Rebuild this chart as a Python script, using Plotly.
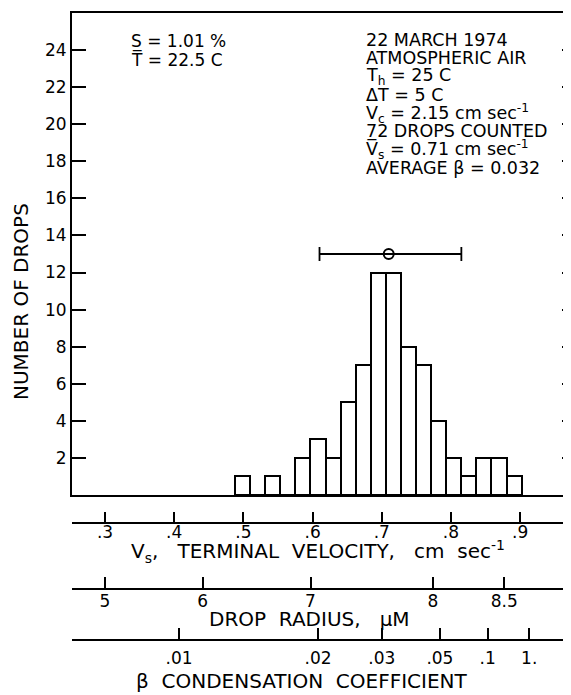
import plotly.graph_objects as go

# ---------------- data ----------------
# histogram bins on the terminal-velocity scale (cm/s)
bin_centers = [0.4988, 0.5206, 0.5424, 0.5642, 0.5860, 0.6078, 0.6296, 0.6514,
               0.6732, 0.6950, 0.7168, 0.7386, 0.7604, 0.7822, 0.8040, 0.8258,
               0.8476, 0.8694, 0.8912]
drop_counts = [1, 0, 1, 0, 2, 3, 2, 5, 7, 12, 12, 8, 7, 4, 2, 1, 2, 2, 1]
bin_width = 0.0218

# mean terminal velocity with spread
mean_vs = [0.71]
mean_level = [13]
spread_minus = [0.100]
spread_plus = [0.105]

# count axis
count_ticks = [2, 4, 6, 8, 10, 12, 14, 16, 18, 20, 22, 24]

# terminal velocity axis
vel_ticks = [0.3, 0.4, 0.5, 0.6, 0.7, 0.8, 0.9]
vel_labels = [".3", ".4", ".5", ".6", ".7", ".8", ".9"]

# drop radius axis (positions on the velocity scale)
radius_ticks = [0.300, 0.441, 0.597, 0.774, 0.877]
radius_labels = ["5", "6", "7", "8", "8.5"]

# condensation coefficient axis (positions on the velocity scale)
beta_ticks = [0.407, 0.608, 0.700, 0.784, 0.853, 0.913]
beta_labels = [".01", ".02", ".03", ".05", ".1", "1."]

info_left = ["S = 1.01 %", "T\u0305 = 22.5 C"]
info_right = ["22 MARCH 1974",
              "ATMOSPHERIC AIR",
              "T<sub>h</sub> = 25 C",
              "\u0394T = 5 C",
              "V<sub>c</sub> = 2.15 cm sec<sup>-1</sup>",
              "72 DROPS COUNTED",
              "V\u0305<sub>s</sub> = 0.71 cm sec<sup>-1</sup>",
              "AVERAGE \u03b2 = 0.032"]

# ---------------- layout geometry ----------------
OFF = 8                      # page body margin
W, H = 571 - OFF, 695 - OFF  # figure size
ML, MR, MT, MB = 72 - OFF, 1, 13 - OFF, 0
PW = W - ML - MR
PH = H - MT - MB
XR = [0.2523, 0.972]


def px(x):
    """page pixel x -> paper fraction"""
    return (x - OFF - ML) / PW


def py(y):
    """page pixel y -> paper fraction"""
    return (H - MB - (y - OFF)) / PH


FONT = "DejaVu Sans, Liberation Sans, Arial, sans-serif"
INK = "black"
NB = "\u00a0"

fig = go.Figure()

fig.add_trace(go.Bar(
    x=bin_centers, y=drop_counts, width=bin_width,
    marker=dict(color="white", line=dict(color=INK, width=2)),
    showlegend=False, hoverinfo="x+y",
))

fig.add_trace(go.Scatter(
    x=mean_vs, y=mean_level, mode="markers",
    marker=dict(symbol="circle-open", size=10, color=INK, line=dict(width=2)),
    error_x=dict(type="data", symmetric=False, array=spread_plus,
                 arrayminus=spread_minus, color=INK, thickness=1.8, width=7),
    showlegend=False,
))

# invisible trace to host the right-side count ticks
fig.add_trace(go.Scatter(x=[XR[0]], y=[0], yaxis="y2", mode="markers",
                         marker=dict(opacity=0), showlegend=False,
                         hoverinfo="skip"))

y_dom0 = py(495)

fig.update_layout(
    width=W, height=H,
    margin=dict(l=ML, r=MR, t=MT, b=MB, autoexpand=False),
    paper_bgcolor="white", plot_bgcolor="white",
    font=dict(family=FONT, color=INK, size=17),
    bargap=0,
    xaxis=dict(range=XR, domain=[0, 1], showgrid=False, zeroline=False,
               showline=True, linecolor=INK, linewidth=2, mirror=True,
               showticklabels=False, ticks=""),
    yaxis=dict(range=[0, 26], domain=[y_dom0, 1], showgrid=False,
               zeroline=False, showline=True, linecolor=INK, linewidth=2,
               tickvals=count_ticks, ticks="inside", ticklen=14,
               tickwidth=1.5, tickcolor=INK, tickfont=dict(size=17)),
    yaxis2=dict(range=[0, 26], overlaying="y", side="right", anchor="x",
                showgrid=False, zeroline=False, showline=False,
                tickvals=count_ticks, ticks="inside", ticklen=8,
                tickwidth=1.5, tickcolor=INK, showticklabels=False),
    xaxis2=dict(range=XR, overlaying="x", anchor="free", position=py(523),
                side="bottom", showgrid=False, zeroline=False, showline=True,
                linecolor=INK, linewidth=2, tickvals=vel_ticks,
                ticktext=vel_labels, ticks="inside", ticklen=10, tickwidth=1.5,
                tickcolor=INK, tickfont=dict(size=17), ticklabelstandoff=-6),
    xaxis3=dict(range=XR, overlaying="x", anchor="free", position=py(589),
                side="bottom", showgrid=False, zeroline=False, showline=True,
                linecolor=INK, linewidth=2, tickvals=radius_ticks,
                ticktext=radius_labels, ticks="inside", ticklen=11,
                tickwidth=1.5, tickcolor=INK, tickfont=dict(size=17),
                ticklabelstandoff=-3),
    xaxis4=dict(range=XR, overlaying="x", anchor="free", position=py(640),
                side="bottom", showgrid=False, zeroline=False, showline=True,
                linecolor=INK, linewidth=2, tickvals=beta_ticks,
                ticktext=beta_labels, ticks="inside", ticklen=11,
                tickwidth=1.5, tickcolor=INK, tickfont=dict(size=17),
                ticklabelstandoff=3),
)

# traces to activate the extra x axes
for ax in ["x2", "x3", "x4"]:
    fig.add_trace(go.Scatter(x=[XR[0]], y=[0], xaxis=ax, mode="markers",
                             marker=dict(opacity=0), showlegend=False,
                             hoverinfo="skip"))

ann = []
# y title
ann.append(dict(text="NUMBER OF DROPS", x=px(21), y=py(302), xref="paper",
                yref="paper", textangle=-90, showarrow=False,
                font=dict(size=20), xanchor="center", yanchor="middle"))
# x axis titles
ann.append(dict(text="V<sub>s</sub>," + NB * 3 + "TERMINAL" + NB * 2 +
                "VELOCITY," + NB * 3 + "cm" + NB * 2 + "sec<sup>-1</sup>",
                x=px(318), y=py(551), xref="paper", yref="paper",
                showarrow=False, font=dict(size=20), xanchor="center",
                yanchor="middle"))
ann.append(dict(text="DROP" + NB * 2 + "RADIUS," + NB * 3 + "\u03bcM",
                x=px(309), y=py(619), xref="paper", yref="paper",
                showarrow=False, font=dict(size=20), xanchor="center",
                yanchor="middle"))
ann.append(dict(text="\u03b2" + NB * 2 + "CONDENSATION" + NB * 2 +
                "COEFFICIENT", x=px(302), y=py(681), xref="paper",
                yref="paper", showarrow=False, font=dict(size=20),
                xanchor="center", yanchor="middle"))
# info text
for i, t in enumerate(info_left):
    ann.append(dict(text=t, x=px(129), y=py(41 + 18.3 * i), xref="paper",
                    yref="paper", showarrow=False, font=dict(size=17),
                    xanchor="left", yanchor="middle"))
for i, t in enumerate(info_right):
    ann.append(dict(text=t, x=px(364), y=py(40 + 18.3 * i), xref="paper",
                    yref="paper", showarrow=False, font=dict(size=17.5),
                    xanchor="left", yanchor="middle"))

fig.update_layout(annotations=ann)

fig.write_html("out.html")
